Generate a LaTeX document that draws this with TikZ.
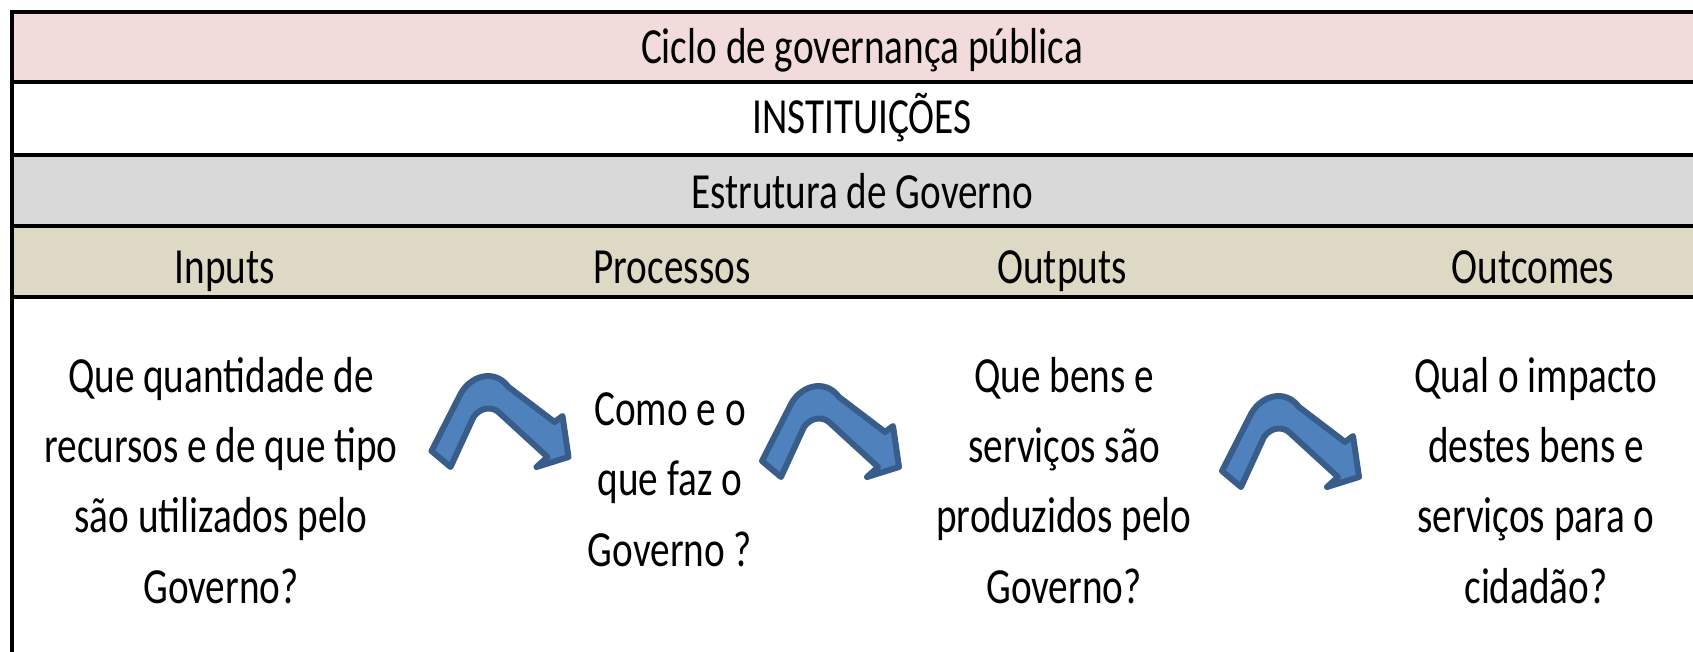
\documentclass[tikz,border=0pt]{standalone}
\usepackage{fontspec}
\setmainfont{Carlito}[FakeStretch=0.775]
\definecolor{pinkrow}{HTML}{F2DCDB}
\definecolor{grayrow}{HTML}{D9D9D9}
\definecolor{tanrow}{HTML}{DDD9C4}
\definecolor{arrowfill}{HTML}{4F81BD}
\definecolor{arrowline}{HTML}{385D8A}
\tikzset{
  txt/.style={font=\fontsize{50.6}{70.3}\selectfont, align=center, anchor=base, inner sep=0pt},
  rule/.style={draw=black, line width=4pt},
  bentarrow/.style={fill=arrowfill, draw=arrowline, line width=6pt, line join=round},
}
\begin{document}
\begin{tikzpicture}[x=1pt,y=-1pt]
\useasboundingbox (0,0) rectangle (1693,652);
% row fills
\fill[pinkrow] (12,12) rectangle (1693,82);
\fill[grayrow] (12,155) rectangle (1693,226.5);
\fill[tanrow] (12,226.5) rectangle (1693,297);
% rules
\foreach \yy in {12,82,155,226.5,297}
  \draw[rule] (10,\yy) -- (1700,\yy);
\draw[rule] (12,10) -- (12,660);
% header texts
\node[txt] (hdr) at (862,64) {Ciclo de governança pública};
\node[txt] (inst) at (862,134) {INSTITUIÇÕES};
\node[txt] (estr) at (862,209) {Estrutura de Governo};
\node[txt] (inp) at (225,283) {Inputs};
\node[txt] (proc) at (672,283) {Processos};
\node[txt] (outp) at (1062,283) {Outputs};
\node[txt] (outc) at (1533,283) {Outcomes};
% questions (anchor=base is the baseline of the last line)
\node[txt] (q1) at (221,603) {Que quantidade de\\recursos e de que tipo\\são utilizados pelo\\Governo?};
\node[txt] (q2) at (670,566) {Como e o\\que faz o\\Governo ?};
\node[txt] (q3) at (1064,603) {Que bens e\\serviços são\\produzidos pelo\\Governo?};
\node[txt] (q4) at (1536,603) {Qual o impacto\\destes bens e\\serviços para o\\cidadão?};
% bent arrows
\foreach \ax/\ay in {486.5/375, 817/385, 1277/395}{
  \path[bentarrow, shift={(\ax,\ay)}]
    (-55,76) -- (-28,23) .. controls (-18,0) and (8,-7) .. (22,12)
    -- (68,47) -- (76,41) -- (82,82) -- (50,92) -- (61,82)
    -- (13,38) .. controls (6,31) and (-6,32) .. (-13,42)
    -- (-36,92) -- cycle;
}
\end{tikzpicture}
\end{document}
